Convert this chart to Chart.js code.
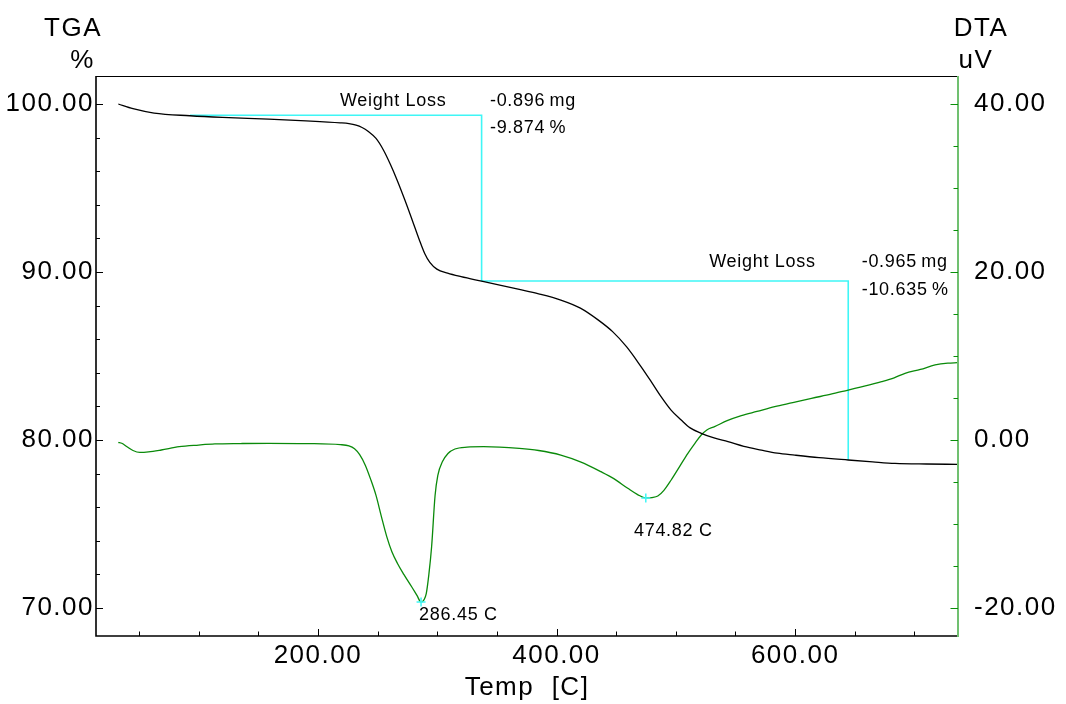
<!DOCTYPE html>
<html><head><meta charset="utf-8">
<script src="https://cdn.jsdelivr.net/npm/chart.js@4.4.1/dist/chart.umd.min.js"></script>
<style>html,body{margin:0;padding:0;background:#fff;overflow:hidden}canvas{display:block}</style>
</head><body>
<canvas id="c" width="1066" height="704"></canvas>
<script>
// ---- data ----
const tgaTemp = [32.7,45,62.7,92.7,120,158.7,190,218.7,226,232,237,242,248.7,255,260.8,266.5,272.8,279,284.8,289.5,293.8,299.7,308.7,320,337.2,368.8,385,403.6,420,434.8,447,458.8,470.8,479.2,487.6,496,504.5,512,521.3,532,543.7,557,571.7,585,599.7,620,644.5,665,683.7,710,736];
const tgaPct  = [100.0,99.72,99.46,99.30,99.20,99.10,99.00,98.88,98.83,98.74,98.60,98.38,97.95,97.25,96.4,95.45,94.3,93.1,91.95,91.1,90.57,90.17,89.93,89.72,89.45,88.96,88.70,88.33,87.85,87.15,86.45,85.54,84.37,83.49,82.58,81.78,81.19,80.72,80.40,80.12,79.90,79.62,79.40,79.22,79.10,78.95,78.81,78.70,78.61,78.57,78.55];
const dtaTemp = [32.7,35.6,40,45,50.7,58,68.7,83.7,100,113.7,135,158.7,190,218.7,226,230.7,235,239.7,244,248.7,253,257.7,262,266.7,272,278.7,283,286.45,289,290.8,293,295.3,298.2,300.5,304.3,309,314.8,325,338.8,368.8,385,403.6,420,437.2,448,459.7,468,474.82,480,484.9,490,496.1,503,510.1,516,521.3,526,532.5,543,554.9,568,582.9,598,613.7,630,644.5,658,672.5,683,692.1,705,717.3,728,736];
const dtaUV   = [-0.27,-0.39,-0.8,-1.25,-1.48,-1.42,-1.19,-0.80,-0.6,-0.47,-0.42,-0.39,-0.42,-0.55,-0.7,-1.05,-1.75,-3.0,-4.6,-6.6,-9.0,-11.5,-13.3,-14.7,-16.0,-17.5,-18.5,-19.3,-19.0,-18.3,-16.0,-12.7,-6.6,-4.2,-2.6,-1.6,-1.07,-0.85,-0.80,-1.0,-1.25,-1.79,-2.6,-3.77,-4.6,-5.75,-6.5,-6.9,-6.85,-6.67,-6.0,-4.76,-3.2,-1.59,-0.4,0.6,1.2,1.59,2.3,2.9,3.4,3.97,4.45,4.96,5.45,5.95,6.4,6.94,7.4,7.94,8.4,8.93,9.15,9.2];
const stepTemp = [92.7,337.2,337.2,644.5,644.5];
const stepPct  = [99.33,99.33,89.46,89.46,78.82];
const peakTemp = [286.45,474.82];
const peakUV   = [-19.3,-6.9];
const lossMg   = ['-0.896','-0.965'];
const lossPct  = ['-9.874','-10.635'];
const xTicks   = [200,400,600];
const xMinor   = [50,100,150,250,300,350,450,500,550,650,700];
const tgaTicks = [70,80,90,100];
const tgaMinor = [72,74,76,78,82,84,86,88,92,94,96,98];
const dtaTicks = [-20,0,20,40];
const dtaMinor = [-15,-10,-5,5,10,15,25,30,35];

// ---- styling / layout ----
const FONT = '"Liberation Sans", Arial, Helvetica, sans-serif';
const CYAN = '#3ff6f6';
const GREEN = '#0a8a0a';
// annotation anchors in data coordinates (temperature, axis value), left / alphabetic baseline
const notes = [
  {t:'Weight Loss', x:218.5, y:99.88, ax:'y'},
  {t:lossMg[0]+'\u2009mg', x:344.2, y:99.88, ax:'y'},
  {t:lossPct[0]+'\u2009%', x:344.2, y:98.26, ax:'y'},
  {t:'Weight Loss', x:528, y:90.32, ax:'y'},
  {t:lossMg[1]+'\u2009mg', x:655.8, y:90.32, ax:'y'},
  {t:lossPct[1]+'\u2009%', x:655.8, y:88.63, ax:'y'},
  {t:peakTemp[0].toFixed(2)+' C', x:284.8, y:-21.37, ax:'y1'},
  {t:peakTemp[1].toFixed(2)+' C', x:464.9, y:-11.43, ax:'y1'}
];

const pts = (xs, ys) => xs.map((v,i)=>({x:v, y:ys[i]}));

const framePlugin = {
  id:'frame',
  beforeLayout(chart){ chart.ctx.letterSpacing = '1.5px'; },
  beforeDraw(chart){
    const ctx = chart.ctx;
    ctx.save(); ctx.fillStyle='#fff'; ctx.fillRect(0,0,chart.width,chart.height); ctx.restore();
    ctx.letterSpacing = '1.5px';
  },
  afterDatasetsDraw(chart){
    const {ctx, chartArea:a, scales} = chart;
    const sx = scales.x, yl = scales.y, yr = scales.y1;
    ctx.save();
    ctx.lineCap = 'butt';
    // frame
    ctx.strokeStyle = '#000';
    ctx.lineWidth = 1;
    ctx.beginPath(); ctx.moveTo(a.left, a.top+0.5); ctx.lineTo(a.right, a.top+0.5); ctx.stroke();
    ctx.lineWidth = 1.6;
    ctx.beginPath(); ctx.moveTo(a.left, a.top); ctx.lineTo(a.left, a.bottom); ctx.lineTo(a.right, a.bottom); ctx.stroke();
    ctx.strokeStyle = 'rgb(112,192,112)'; ctx.lineWidth = 2;
    ctx.beginPath(); ctx.moveTo(a.right, a.top); ctx.lineTo(a.right, a.bottom+1); ctx.stroke();
    // tick marks (inward)
    ctx.strokeStyle = '#000'; ctx.lineWidth = 1;
    const hTick = (y, len) => { ctx.beginPath(); ctx.moveTo(a.left, Math.round(y)+0.5); ctx.lineTo(a.left+len, Math.round(y)+0.5); ctx.stroke(); };
    tgaTicks.forEach(v => hTick(yl.getPixelForValue(v), 7));
    tgaMinor.forEach(v => hTick(yl.getPixelForValue(v), 4));
    const vTick = (x, len) => { ctx.beginPath(); ctx.moveTo(Math.round(x)+0.5, a.bottom); ctx.lineTo(Math.round(x)+0.5, a.bottom-len); ctx.stroke(); };
    xTicks.forEach(v => vTick(sx.getPixelForValue(v), 7));
    xMinor.forEach(v => vTick(sx.getPixelForValue(v), 4.5));
    ctx.strokeStyle = '#0a8f0a';
    const rTick = (y, len) => { ctx.beginPath(); ctx.moveTo(a.right, Math.round(y)+0.5); ctx.lineTo(a.right-len, Math.round(y)+0.5); ctx.stroke(); };
    dtaTicks.forEach(v => rTick(yr.getPixelForValue(v), 7.5));
    dtaMinor.forEach(v => rTick(yr.getPixelForValue(v), 4.5));
    // axis titles
    ctx.fillStyle = '#000';
    ctx.font = '26px ' + FONT;
    ctx.letterSpacing = '1.5px';
    ctx.textAlign = 'center'; ctx.textBaseline = 'alphabetic';
    ctx.fillText('TGA', 73, 36);
    ctx.fillText('%', 82.5, 68);
    ctx.fillText('DTA', 981, 36);
    ctx.fillText('uV', 976, 68);
    ctx.fillText('Temp  [C]', (a.left+a.right)/2, 695);
    // annotations
    ctx.font = '18px ' + FONT;
    ctx.letterSpacing = '0.7px';
    ctx.textAlign = 'left';
    notes.forEach(n => {
      const ys = n.ax === 'y' ? yl : yr;
      ctx.fillText(n.t, sx.getPixelForValue(n.x), ys.getPixelForValue(n.y));
    });
    ctx.restore();
    ctx.letterSpacing = '1.5px';
  }
};

const tickFont = {family: FONT, size: 26};
new Chart(document.getElementById('c'), {
  type: 'line',
  data: {
    datasets: [
      {label:'peaks', data: pts(peakTemp, peakUV), yAxisID:'y1', showLine:false,
       pointStyle:'cross', pointRadius:4.5, pointBorderColor:CYAN, pointBackgroundColor:CYAN, pointBorderWidth:1.5},
      {label:'TGA', data: pts(tgaTemp, tgaPct), yAxisID:'y', borderColor:'#000', borderWidth:1.3,
       pointRadius:0, cubicInterpolationMode:'monotone', fill:false},
      {label:'DTA', data: pts(dtaTemp, dtaUV), yAxisID:'y1', borderColor:GREEN, borderWidth:1.3,
       pointRadius:0, cubicInterpolationMode:'monotone', fill:false},
      {label:'steps', data: pts(stepTemp, stepPct), yAxisID:'y', borderColor:CYAN, borderWidth:1.6,
       pointRadius:0, tension:0, fill:false}
    ]
  },
  options: {
    responsive:false, maintainAspectRatio:false, animation:false, devicePixelRatio:1,
    layout:{padding:{top:76, left:0, right:0, bottom:0}},
    plugins:{legend:{display:false}, tooltip:{enabled:false}},
    events: [],
    scales: {
      x: {type:'linear', position:'bottom', min:14, max:736.5,
          grid:{display:false, drawTicks:false}, border:{display:false},
          ticks:{font:tickFont, color:'#000', padding:4, maxRotation:0, autoSkip:false, callback:v=>Number(v).toFixed(2)},
          afterBuildTicks: s => { s.ticks = xTicks.map(v=>({value:v})); },
          afterFit: s => { s.height = 68; }},
      y: {type:'linear', position:'left', min:70-10/6, max:100+10/6,
          grid:{display:false, drawTicks:false}, border:{display:false},
          ticks:{font:tickFont, color:'#000', padding:2, callback:v=>Number(v).toFixed(2)},
          afterBuildTicks: s => { s.ticks = tgaTicks.map(v=>({value:v})); },
          afterFit: s => { s.width = 96; }},
      y1: {type:'linear', position:'right', min:-20-20/6, max:40+20/6,
          grid:{display:false, drawTicks:false}, border:{display:false},
          ticks:{font:tickFont, color:'#000', padding:16, callback:v=>Number(v).toFixed(2)},
          afterBuildTicks: s => { s.ticks = dtaTicks.map(v=>({value:v})); },
          afterFit: s => { s.width = 108; }}
    }
  },
  plugins:[framePlugin]
});
</script>
</body></html>
